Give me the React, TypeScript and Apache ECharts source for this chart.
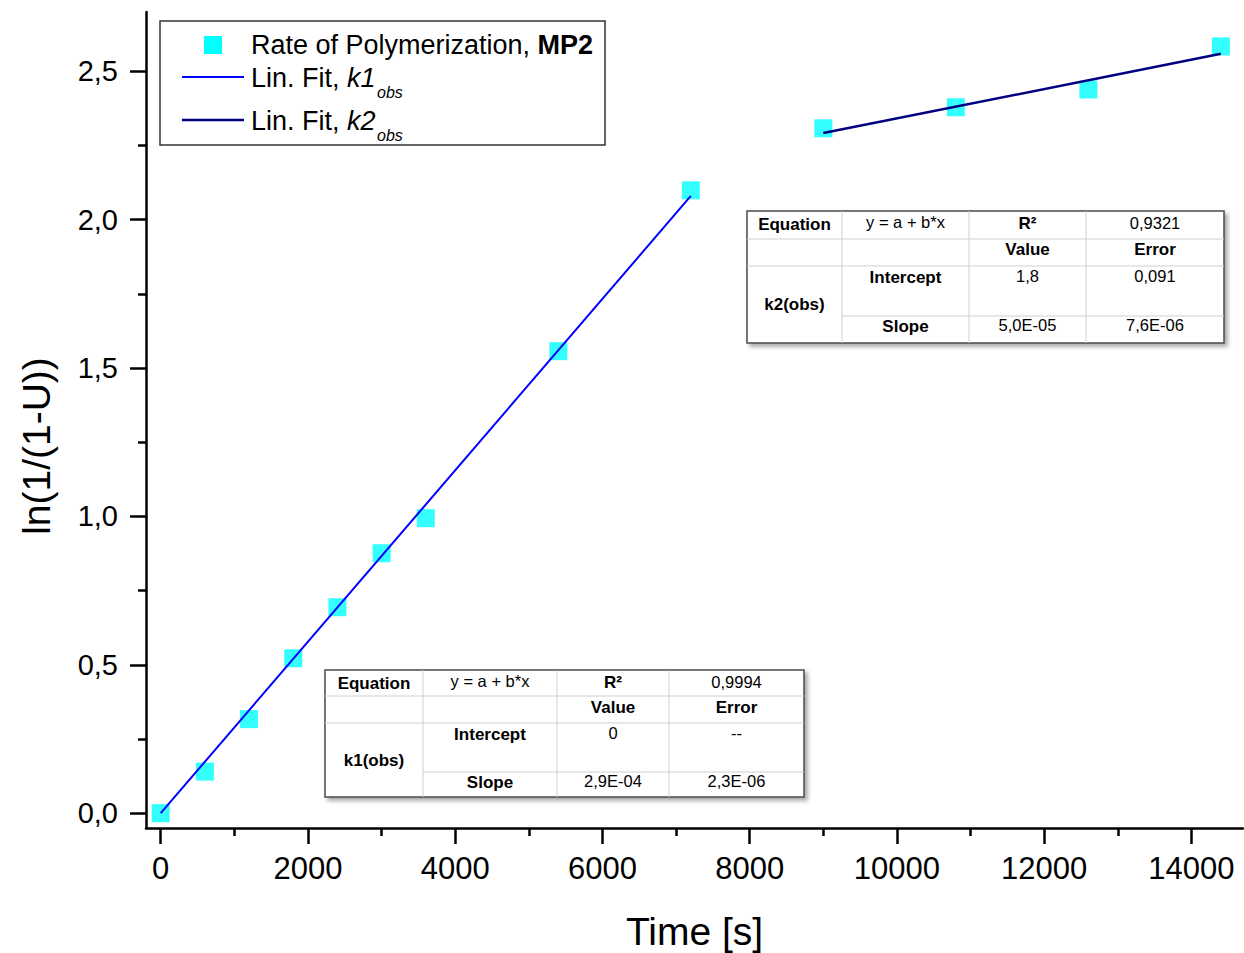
import React, { useEffect, useRef } from "react";
import * as echarts from "echarts";

// ---------- data ----------
const timeS = [0, 600, 1200, 1800, 2400, 3000, 3600, 5400, 7200, 9000, 10800, 12600, 14400];
const lnValues = [0, 0.14, 0.317, 0.522, 0.694, 0.876, 0.994, 1.557, 2.099, 2.308, 2.379, 2.439, 2.584];

const fitK1X = [0, 7200];
const fitK1Y = [0, 2.08];
const fitK2X = [9000, 14400];
const fitK2Y = [2.292, 2.559];

const xMajorTicks = [0, 2000, 4000, 6000, 8000, 10000, 12000, 14000];
const xMinorTicks = [1000, 3000, 5000, 7000, 9000, 11000, 13000];
const yMajorTicks = [0, 0.5, 1.0, 1.5, 2.0, 2.5];
const yTickLabels = ["0,0", "0,5", "1,0", "1,5", "2,0", "2,5"];
const yMinorTicks = [0.25, 0.75, 1.25, 1.75, 2.25];

const legendLabels = ["Rate of Polymerization, ", "MP2", "Lin. Fit, ", "k1", "obs", "k2", "obs"];

const k1Table = {
  r2: "0,9994",
  name: "k1(obs)",
  intercept: "0",
  interceptErr: "--",
  slope: "2,9E-04",
  slopeErr: "2,3E-06",
};
const k2Table = {
  r2: "0,9321",
  name: "k2(obs)",
  intercept: "1,8",
  interceptErr: "0,091",
  slope: "5,0E-05",
  slopeErr: "7,6E-06",
};

// ---------- style / layout ----------
const FONT = '"Liberation Sans", Arial, Helvetica, sans-serif';
const W = 1244;
const H = 953;

function textEl(text: string, x: number, y: number, size: number, opts: any = {}) {
  return {
    type: "text",
    x,
    y,
    z: 20,
    style: {
      text,
      fontSize: size,
      fontFamily: FONT,
      fontWeight: opts.bold ? "bold" : "normal",
      fontStyle: opts.italic ? "italic" : "normal",
      fill: "#000",
      textAlign: opts.align || "left",
      align: opts.align || "left",
      textVerticalAlign: "middle",
      verticalAlign: "middle",
      rich: opts.rich,
    },
  };
}

function buildTable(x0: number, y0: number, cols: number[], rows: number[], ty: number[], d: any) {
  const els: any[] = [];
  const w = cols[cols.length - 1];
  const h = rows[rows.length - 1];
  els.push({
    type: "rect",
    z: 15,
    shape: { x: x0, y: y0, width: w, height: h },
    style: {
      fill: "#fff",
      stroke: "#4a4a4a",
      lineWidth: 1.5,
      shadowBlur: 4,
      shadowOffsetX: 3,
      shadowOffsetY: 3,
      shadowColor: "rgba(0,0,0,0.35)",
    },
  });
  const inner = { stroke: "#cfcfcf", lineWidth: 1 };
  for (let i = 1; i < cols.length - 1; i++) {
    els.push({ type: "line", z: 16, shape: { x1: x0 + cols[i], y1: y0, x2: x0 + cols[i], y2: y0 + h }, style: inner });
  }
  els.push({ type: "line", z: 16, shape: { x1: x0, y1: y0 + rows[1], x2: x0 + w, y2: y0 + rows[1] }, style: inner });
  els.push({ type: "line", z: 16, shape: { x1: x0, y1: y0 + rows[2], x2: x0 + w, y2: y0 + rows[2] }, style: inner });
  els.push({ type: "line", z: 16, shape: { x1: x0 + cols[1], y1: y0 + rows[3], x2: x0 + w, y2: y0 + rows[3] }, style: inner });
  const cx = (i: number) => x0 + (cols[i] + cols[i + 1]) / 2;
  const B = 17;
  const R = 16.5;
  els.push(textEl("Equation", cx(0), y0 + ty[0], B, { bold: true, align: "center" }));
  els.push(textEl("y = a + b*x", cx(1), y0 + ty[0] - 2, R, { align: "center" }));
  els.push(textEl("R²", cx(2), y0 + ty[0] - 1, B, { bold: true, align: "center" }));
  els.push(textEl(d.r2, cx(3), y0 + ty[0] - 1, R, { align: "center" }));
  els.push(textEl("Value", cx(2), y0 + ty[1], B, { bold: true, align: "center" }));
  els.push(textEl("Error", cx(3), y0 + ty[1], B, { bold: true, align: "center" }));
  els.push(textEl("Intercept", cx(1), y0 + ty[2], B, { bold: true, align: "center" }));
  els.push(textEl(d.intercept, cx(2), y0 + ty[2] - 1, R, { align: "center" }));
  els.push(textEl(d.interceptErr, cx(3), y0 + ty[2] - 1, R, { align: "center" }));
  els.push(textEl(d.name, cx(0), y0 + ty[3], B, { bold: true, align: "center" }));
  els.push(textEl("Slope", cx(1), y0 + ty[4], B, { bold: true, align: "center" }));
  els.push(textEl(d.slope, cx(2), y0 + ty[4] - 1, R, { align: "center" }));
  els.push(textEl(d.slopeErr, cx(3), y0 + ty[4] - 1, R, { align: "center" }));
  return els;
}

export default function App() {
  const ref = useRef<HTMLDivElement>(null);
  useEffect(() => {
    if (!ref.current) return;
    const chart = echarts.init(ref.current, null, { renderer: "svg" });

    const points = timeS.map((t, i) => [t, lnValues[i]]);
    const k1Line = fitK1X.map((t, i) => [t, fitK1Y[i]]);
    const k2Line = fitK2X.map((t, i) => [t, fitK2Y[i]]);

    const LF = 27;
    const legendEls: any[] = [
      {
        type: "rect",
        z: 15,
        shape: { x: 160, y: 21, width: 445, height: 124 },
        style: { fill: "#fff", stroke: "#333", lineWidth: 1.5 },
      },
      { type: "rect", z: 16, shape: { x: 204, y: 36, width: 18, height: 18 }, style: { fill: "#00FFFF" } },
      { type: "line", z: 16, shape: { x1: 182, y1: 77, x2: 244, y2: 77 }, style: { stroke: "#0000FF", lineWidth: 2 } },
      { type: "line", z: 16, shape: { x1: 182, y1: 120, x2: 244, y2: 120 }, style: { stroke: "#000080", lineWidth: 2.5 } },
      textEl(legendLabels[0] + "{b|" + legendLabels[1] + "}", 251, 45, LF, {
        rich: { b: { fontSize: LF, fontFamily: FONT, fontWeight: "bold", fill: "#000" } },
      }),
      textEl(legendLabels[2] + "{i|" + legendLabels[3] + "}", 251, 78, LF, {
        rich: { i: { fontSize: LF, fontFamily: FONT, fontStyle: "italic", fill: "#000" } },
      }),
      textEl(legendLabels[4], 377, 92, 16, { italic: true }),
      textEl(legendLabels[2] + "{i|" + legendLabels[5] + "}", 251, 121, LF, {
        rich: { i: { fontSize: LF, fontFamily: FONT, fontStyle: "italic", fill: "#000" } },
      }),
      textEl(legendLabels[6], 377, 135, 16, { italic: true }),
    ];

    const tableK2 = buildTable(747, 211, [0, 95, 222, 339, 477], [0, 28, 55, 105, 132], [13, 38, 66, 93, 115], k2Table);
    const tableK1 = buildTable(325, 670, [0, 98, 232, 344, 479], [0, 26, 53, 102, 127], [13, 37, 64, 90, 112], k1Table);

    chart.setOption({
      animation: false,
      backgroundColor: "#fff",
      textStyle: { fontFamily: FONT },
      grid: {
        left: 146,
        top: 12,
        width: 1097,
        bottom: 125,
        containLabel: false,
        outerBoundsMode: "none",
      },
      xAxis: [
        {
          type: "value",
          min: -200,
          max: 14700,
          position: "bottom",
          name: "Time [s]",
          nameLocation: "middle",
          nameGap: 84,
          nameTextStyle: { fontSize: 39, fontFamily: FONT, color: "#000" },
          axisLine: { show: true, onZero: false, lineStyle: { color: "#000", width: 2.5 } },
          axisTick: { show: true, inside: false, length: 16, customValues: xMajorTicks, lineStyle: { color: "#000", width: 2.5 } },
          axisLabel: {
            show: true,
            margin: 25,
            customValues: xMajorTicks,
            fontSize: 31,
            fontFamily: FONT,
            color: "#000",
            formatter: (v: number) => String(v),
          },
          splitLine: { show: false },
        },
        {
          type: "value",
          min: -200,
          max: 14700,
          position: "bottom",
          axisLine: { show: false, onZero: false },
          axisTick: { show: true, inside: false, length: 8, customValues: xMinorTicks, lineStyle: { color: "#000", width: 2.5 } },
          axisLabel: { show: false },
          splitLine: { show: false },
        },
      ],
      yAxis: [
        {
          type: "value",
          min: -0.05,
          max: 2.7,
          position: "left",
          name: "ln(1/(1-U))",
          nameLocation: "middle",
          nameGap: 90,
          nameTextStyle: { fontSize: 39, fontFamily: FONT, color: "#000", padding: [0, 52, 0, 0] },
          axisLine: { show: true, onZero: false, lineStyle: { color: "#000", width: 2.5 } },
          axisTick: { show: true, inside: false, length: 16, customValues: yMajorTicks, lineStyle: { color: "#000", width: 2.5 } },
          axisLabel: {
            show: true,
            margin: 28,
            customValues: yMajorTicks,
            fontSize: 29,
            fontFamily: FONT,
            color: "#000",
            formatter: (v: number) => {
              const idx = yMajorTicks.findIndex((t) => Math.abs(t - v) < 1e-9);
              return idx >= 0 ? yTickLabels[idx] : "";
            },
          },
          splitLine: { show: false },
        },
        {
          type: "value",
          min: -0.05,
          max: 2.7,
          position: "left",
          axisLine: { show: false, onZero: false },
          axisTick: { show: true, inside: false, length: 8, customValues: yMinorTicks, lineStyle: { color: "#000", width: 2.5 } },
          axisLabel: { show: false },
          splitLine: { show: false },
        },
      ],
      series: [
        {
          name: "Rate of Polymerization, MP2",
          type: "scatter",
          xAxisIndex: 0,
          yAxisIndex: 0,
          data: points,
          symbol: "rect",
          symbolSize: 18,
          itemStyle: { color: "#00FFFF" },
          z: 2,
        },
        {
          name: "Lin. Fit, k1obs",
          type: "line",
          xAxisIndex: 0,
          yAxisIndex: 0,
          data: k1Line,
          showSymbol: false,
          symbol: "none",
          lineStyle: { color: "#0000FF", width: 2 },
          z: 3,
        },
        {
          name: "Lin. Fit, k2obs",
          type: "line",
          xAxisIndex: 0,
          yAxisIndex: 0,
          data: k2Line,
          showSymbol: false,
          symbol: "none",
          lineStyle: { color: "#000080", width: 2.5 },
          z: 3,
        },
      ],
      graphic: [...legendEls, ...tableK2, ...tableK1],
    });
    return () => chart.dispose();
  }, []);
  return <div ref={ref} style={{ position: "absolute", left: 0, top: 0, width: W, height: H }} />;
}
